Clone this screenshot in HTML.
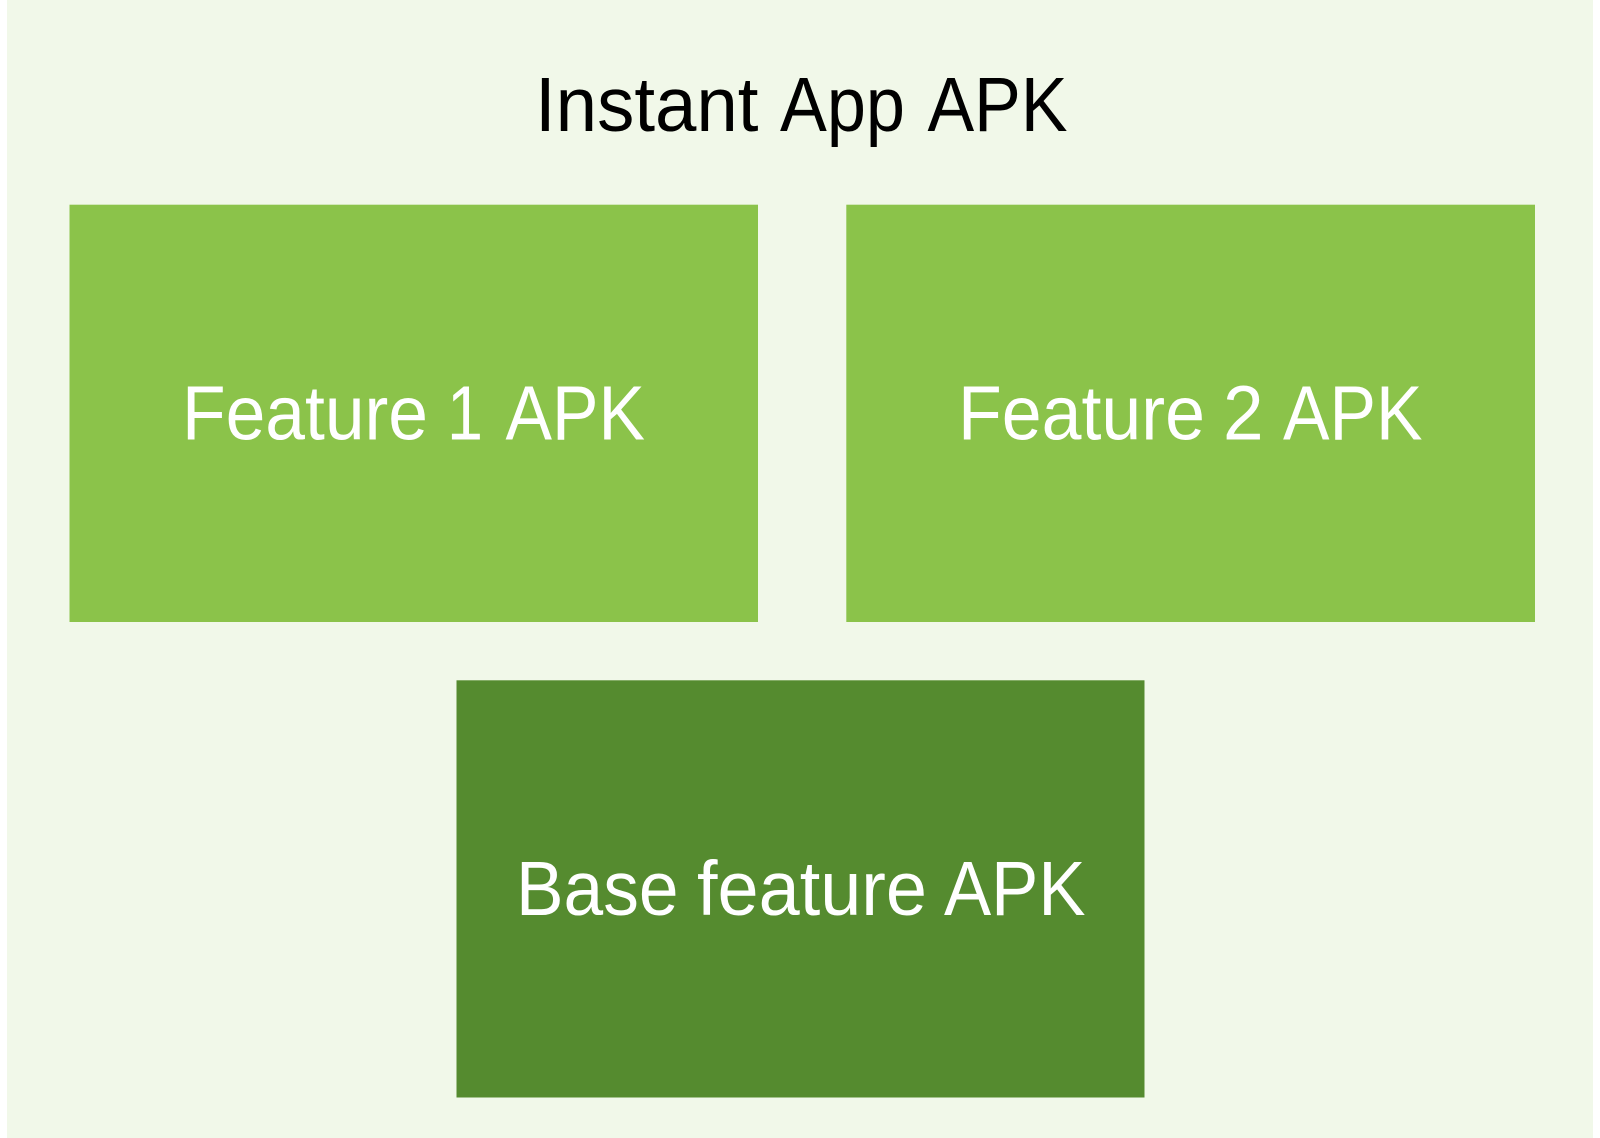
<!DOCTYPE html>
<html>
<head>
<meta charset="utf-8">
<style>
html,body{margin:0;padding:0;background:#fff;width:1600px;height:1138px;overflow:hidden}
svg{display:block}
text{font-family:"Liberation Sans",Arial,sans-serif;font-size:76.6px}
</style>
</head>
<body>
<svg width="1600" height="1138" viewBox="0 0 1600 1138" xmlns="http://www.w3.org/2000/svg">
<rect x="0" y="0" width="1600" height="1138" fill="#ffffff"/>
<rect x="7" y="0" width="1586" height="1138" fill="#F1F8E9"/>
<rect x="69.5" y="204.7" width="688.5" height="417.3" fill="#8BC34A"/>
<rect x="846.3" y="204.7" width="688.7" height="417.3" fill="#8BC34A"/>
<rect x="456.5" y="680.3" width="688" height="417.2" fill="#558B2F"/>
<g fill="#000000">
<text x="535" y="131" textLength="223.5" lengthAdjust="spacingAndGlyphs">Instant</text>
<text x="780" y="131" textLength="125" lengthAdjust="spacingAndGlyphs">App</text>
<text x="927.5" y="131" textLength="140" lengthAdjust="spacingAndGlyphs">APK</text>
</g>
<g fill="#ffffff">
<text x="182" y="439.3" textLength="246" lengthAdjust="spacingAndGlyphs">Feature</text>
<text x="447" y="439.3" textLength="36" lengthAdjust="spacingAndGlyphs">1</text>
<text x="505.5" y="439.3" textLength="139.5" lengthAdjust="spacingAndGlyphs">APK</text>
<text x="958" y="439.3" textLength="247" lengthAdjust="spacingAndGlyphs">Feature</text>
<text x="1223" y="439.3" textLength="40.6" lengthAdjust="spacingAndGlyphs">2</text>
<text x="1283" y="439.3" textLength="139.5" lengthAdjust="spacingAndGlyphs">APK</text>
<text x="516" y="915" textLength="162.5" lengthAdjust="spacingAndGlyphs">Base</text>
<text x="697" y="915" textLength="230" lengthAdjust="spacingAndGlyphs">feature</text>
<text x="944" y="915" textLength="141.5" lengthAdjust="spacingAndGlyphs">APK</text>
</g>
</svg>
</body>
</html>
